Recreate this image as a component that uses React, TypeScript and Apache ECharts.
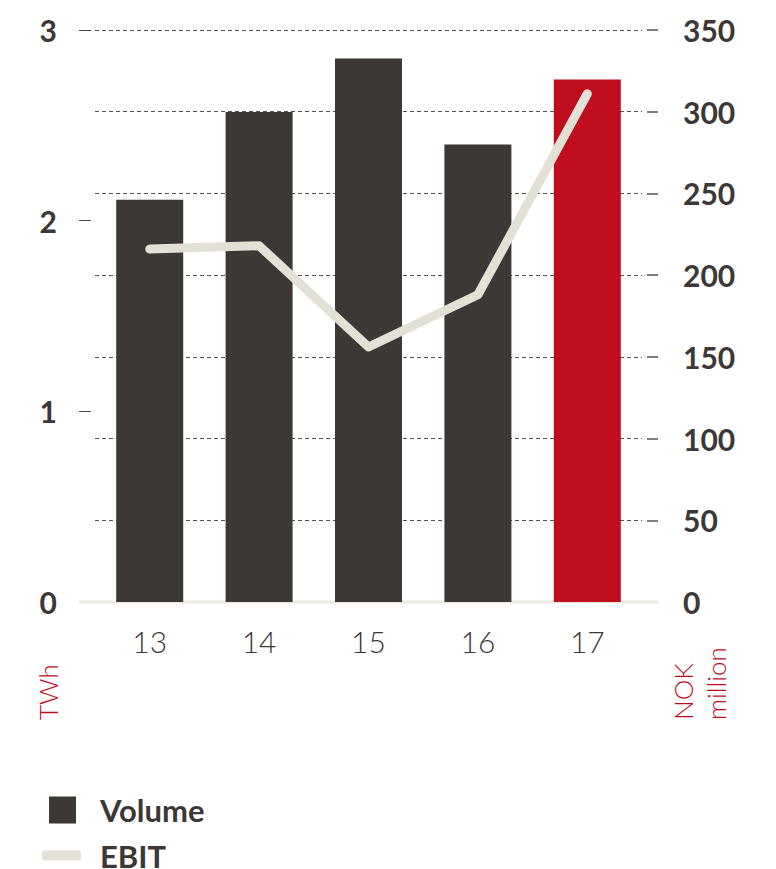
import React, { useEffect, useRef } from "react";
import * as echarts from "echarts";

const categories = ["13", "14", "15", "16", "17"];
const volumeTWh = [2.11, 2.57, 2.85, 2.4, 2.74];
const ebitNOKm = [216, 218, 156, 188, 311];
const leftTicks = { min: 0, max: 3, interval: 1 };
const rightTicks = { min: 0, max: 350, interval: 50 };

const DARK = "#3d3736";
const RED = "#c00d1e";
const BEIGE = "#e3e1d6";
const FONT = "Lato, 'Open Sans', sans-serif";

export default function App() {
  const ref = useRef<HTMLDivElement>(null);
  useEffect(() => {
    if (!ref.current) return;
    const chart = echarts.init(ref.current, undefined, { renderer: "svg" });
    chart.setOption({
      animation: false,
      backgroundColor: "#ffffff",
      grid: { left: 95, right: 134, top: 30, bottom: 267, containLabel: false },
      legend: [
        {
          data: [{ name: "Volume", icon: "rect" }],
          left: 49,
          top: 793,
          padding: 0,
          itemWidth: 27,
          itemHeight: 27,
          selectedMode: false,
          textStyle: { fontFamily: FONT, fontSize: 31, fontWeight: "bold", color: DARK, padding: [0, 0, 0, 19], lineHeight: 34 },
        },
        {
          data: [{ name: "EBIT", icon: "roundRect" }],
          left: 42,
          top: 840,
          padding: 0,
          itemWidth: 39,
          itemHeight: 10,
          selectedMode: false,
          textStyle: { fontFamily: FONT, fontSize: 31, fontWeight: "bold", color: DARK, padding: [0, 0, 0, 14], lineHeight: 25 },
        },
      ],
      xAxis: {
        type: "category",
        data: categories,
        axisLine: { show: false },
        axisTick: { show: false },
        axisLabel: { margin: 24, fontFamily: FONT, fontSize: 30, fontWeight: 300, color: DARK },
      },
      yAxis: [
        {
          type: "value",
          position: "left",
          min: leftTicks.min,
          max: leftTicks.max,
          interval: leftTicks.interval,
          offset: 4,
          axisLine: { show: false },
          axisTick: { show: true, length: 12, lineStyle: { color: "#444", width: 1 } },
          splitLine: { show: false },
          axisLabel: { margin: 34, fontFamily: FONT, fontSize: 30, fontWeight: "bold", color: DARK },
        },
        {
          type: "value",
          position: "right",
          min: rightTicks.min,
          max: rightTicks.max,
          interval: rightTicks.interval,
          offset: 5,
          axisLine: { show: false },
          axisTick: { show: true, length: 11, lineStyle: { color: "#555", width: 1.5 } },
          splitLine: { show: true, lineStyle: { color: "#555", width: 1, type: [4, 3] } },
          axisLabel: { margin: 36, align: "left", fontFamily: FONT, fontSize: 30, fontWeight: "bold", color: DARK },
        },
      ],
      graphic: [
        {
          type: "line",
          z: 1,
          shape: { x1: 79, y1: 602, x2: 658, y2: 602 },
          style: { stroke: "#ebe9e0", lineWidth: 3 },
        },
        {
          type: "text",
          x: 48,
          y: 720,
          rotation: Math.PI / 2,
          style: { text: "TWh", fill: RED, font: `300 26px ${FONT}`, align: "left", verticalAlign: "middle" },
        },
        {
          type: "text",
          x: 683,
          y: 720,
          rotation: Math.PI / 2,
          style: { text: "NOK", fill: RED, font: `300 26px ${FONT}`, align: "left", verticalAlign: "middle" },
        },
        {
          type: "text",
          x: 716,
          y: 720,
          rotation: Math.PI / 2,
          style: { text: "million", fill: RED, font: `300 26px ${FONT}`, align: "left", verticalAlign: "middle" },
        },
      ],
      series: [
        {
          name: "Volume",
          type: "bar",
          yAxisIndex: 0,
          barWidth: 67,
          z: 2,
          itemStyle: { color: DARK },
          data: volumeTWh.map((v, i) => ({
            value: v,
            itemStyle: { color: i === volumeTWh.length - 1 ? RED : DARK },
          })),
        },
        {
          name: "EBIT",
          type: "line",
          yAxisIndex: 1,
          z: 3,
          showSymbol: false,
          symbol: "none",
          itemStyle: { color: BEIGE },
          lineStyle: { color: BEIGE, width: 9, cap: "round", join: "round" },
          data: ebitNOKm,
        },
      ],
    });
    return () => chart.dispose();
  }, []);
  return (
    <div
      ref={ref}
      style={{ position: "fixed", left: 0, top: 0, width: 776, height: 869, background: "#fff" }}
    />
  );
}
